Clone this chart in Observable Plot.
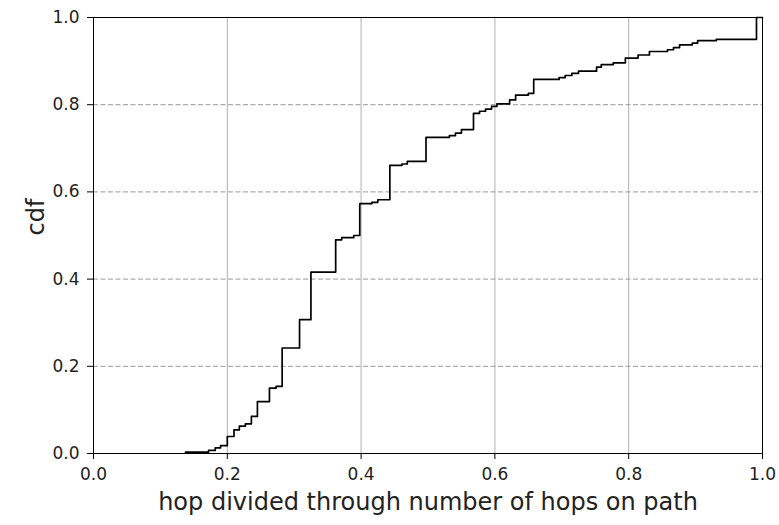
<!DOCTYPE html>
<html>
<head>
<meta charset="utf-8">
<script src="https://cdn.jsdelivr.net/npm/d3@7"></script>
<script src="https://cdn.jsdelivr.net/npm/@observablehq/plot@0.6"></script>
<style>
  html, body { margin: 0; padding: 0; background: white; }
</style>
</head>
<body>
<div id="chart"></div>
<script>
// Step positions (hop fraction) and cumulative fraction after each step
const hopFraction = [
  0.1375, 0.172, 0.182, 0.190, 0.200, 0.210, 0.218, 0.227, 0.236, 0.245,
  0.263, 0.273, 0.282, 0.308, 0.325, 0.362, 0.371, 0.389, 0.398, 0.416,
  0.425, 0.443, 0.461, 0.469, 0.497, 0.532, 0.541, 0.550, 0.568, 0.577,
  0.586, 0.595, 0.603, 0.622, 0.631, 0.650, 0.658, 0.696, 0.705, 0.715,
  0.725, 0.752, 0.759, 0.777, 0.795, 0.814, 0.831, 0.858, 0.867, 0.876,
  0.895, 0.903, 0.931, 0.991, 1.0
];
const cdfValue = [
  0.003, 0.007, 0.013, 0.018, 0.039, 0.054, 0.063, 0.068, 0.085, 0.119,
  0.150, 0.154, 0.242, 0.307, 0.416, 0.490, 0.495, 0.500, 0.573, 0.576,
  0.582, 0.661, 0.664, 0.670, 0.725, 0.729, 0.735, 0.743, 0.780, 0.785,
  0.790, 0.796, 0.802, 0.811, 0.822, 0.826, 0.858, 0.862, 0.867, 0.872,
  0.877, 0.886, 0.892, 0.896, 0.907, 0.914, 0.922, 0.926, 0.931, 0.937,
  0.941, 0.947, 0.950, 1.0, 1.0
];
const xTicks = [0, 0.2, 0.4, 0.6, 0.8, 1.0];
const yTicks = [0, 0.2, 0.4, 0.6, 0.8, 1.0];
const xLabel = "hop divided through number of hops on path";
const yLabel = "cdf";

const data = hopFraction.map((x, i) => ({x, y: cdfValue[i]}));

const chart = Plot.plot({
  width: 779,
  height: 525,
  marginLeft: 93,
  marginRight: 17,
  marginTop: 17,
  marginBottom: 72,
  style: {fontFamily: "DejaVu Sans", fontSize: "17px", background: "white", color: "#222"},
  x: {domain: [0, 1]},
  y: {domain: [0, 1]},
  marks: [
    Plot.gridX(xTicks, {stroke: "#b0b0b0", strokeOpacity: 1, strokeWidth: 1}),
    Plot.gridY(yTicks, {stroke: "#999999", strokeOpacity: 1, strokeWidth: 1, strokeDasharray: "5,2.5"}),
    Plot.line(data, {x: "x", y: "y", curve: "step-after", stroke: "black", strokeWidth: 1.7}),
    Plot.frame({stroke: "black", strokeWidth: 1}),
    Plot.axisX(xTicks, {tickSize: 6, tickPadding: 8, tickFormat: d3.format(".1f"), label: null, fontSize: 17, stroke: "black"}),
    Plot.axisY(yTicks, {tickSize: 6, tickPadding: 8, tickFormat: d3.format(".1f"), label: null, fontSize: 17, stroke: "black"}),
    Plot.text([xLabel], {frameAnchor: "bottom", dy: 56, fontSize: 24, fill: "#222", text: d => d}),
    Plot.text([yLabel], {frameAnchor: "left", dx: -57, rotate: -90, fontSize: 24, fill: "#222", text: d => d})
  ]
});
document.getElementById("chart").appendChild(chart);
</script>
</body>
</html>
